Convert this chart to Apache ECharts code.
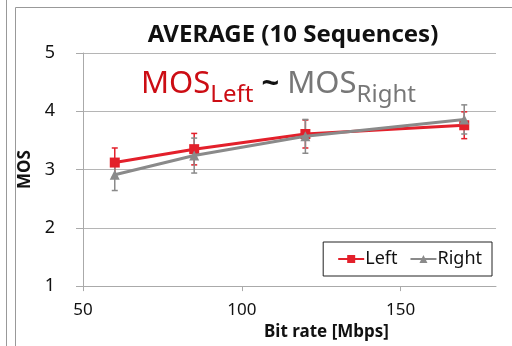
<!DOCTYPE html>
<html>
<head>
<meta charset="utf-8">
<script src="https://cdn.jsdelivr.net/npm/echarts@6/dist/echarts.min.js"></script>
<style>
  html, body { margin: 0; padding: 0; background: #fff; }
  #chart { width: 512px; height: 346px; }
</style>
</head>
<body>
<div id="chart"></div>
<script>
  // bit rates (Mbps)
  var bitRates = [60, 85, 120, 170]
  var leftMos = [3.12, 3.35, 3.61, 3.76]
  var leftErr = [0.25, 0.27, 0.24, 0.23]
  var rightMos = [2.91, 3.24, 3.57, 3.86]
  var rightErr = [0.27, 0.30, 0.29, 0.25]

  var RED = '#e3202b'
  var GRAY = '#8a8a8a'
  var FONT = 'Noto Sans'

  var chart = echarts.init(document.getElementById('chart'))

  function pairs(xs, ys) {
    var out = []
    for (var i = 0; i < xs.length; i++) out.push([xs[i], ys[i]])
    return out
  }
  function errData(xs, ys, es) {
    var out = []
    for (var i = 0; i < xs.length; i++) out.push([xs[i], ys[i] - es[i], ys[i] + es[i]])
    return out
  }
  function errorBars(color) {
    return function (params, api) {
      var lo = api.coord([api.value(0), api.value(1)])
      var hi = api.coord([api.value(0), api.value(2)])
      var w = 3
      var style = { stroke: color, lineWidth: 1.5 }
      return {
        type: 'group',
        children: [
          { type: 'line', shape: { x1: lo[0], y1: lo[1], x2: hi[0], y2: hi[1] }, style: style },
          { type: 'line', shape: { x1: lo[0] - w, y1: lo[1], x2: lo[0] + w, y2: lo[1] }, style: style },
          { type: 'line', shape: { x1: hi[0] - w, y1: hi[1], x2: hi[0] + w, y2: hi[1] }, style: style }
        ]
      }
    }
  }

  var option = {
    animation: false,
    textStyle: { fontFamily: FONT },
    title: [
      {
        text: 'AVERAGE (10 Sequences)',
        left: 288, top: 18, textAlign: 'center',
        textStyle: { fontSize: 24, fontWeight: 'bold', color: '#111', fontFamily: FONT }
      },
      {
        text: '{r|MOS}{rs|Left}{t| ~ }{g|MOS}{gs|Right}',
        left: 136, top: 64,
        textStyle: {
          fontWeight: 'normal',
          rich: {
            r: { color: '#cc0d14', fontSize: 31, fontFamily: FONT, fontWeight: 'normal', verticalAlign: 'bottom' },
            rs: { color: '#cc0d14', fontSize: 24, fontFamily: FONT, fontWeight: 'normal', verticalAlign: 'bottom', padding: [0, 0, -7, 0] },
            t: { color: '#111', fontSize: 31, fontFamily: FONT, fontWeight: 'bold', verticalAlign: 'bottom' },
            g: { color: '#777', fontSize: 31, fontFamily: FONT, fontWeight: 'normal', verticalAlign: 'bottom' },
            gs: { color: '#777', fontSize: 24, fontFamily: FONT, fontWeight: 'normal', verticalAlign: 'bottom', padding: [0, 0, -7, 0] }
          }
        }
      }
    ],
    graphic: [
      { type: 'line', shape: { x1: 6.5, y1: 0, x2: 6.5, y2: 346 }, style: { stroke: '#999', lineWidth: 1 } },
      { type: 'line', shape: { x1: 15.5, y1: 7.5, x2: 15.5, y2: 346 }, style: { stroke: '#999', lineWidth: 1 } },
      { type: 'line', shape: { x1: 15.5, y1: 7.5, x2: 512, y2: 7.5 }, style: { stroke: '#999', lineWidth: 1 } }
    ],
    legend: {
      right: 20, top: 242,
      padding: [8, 10, 8, 14],
      borderColor: '#222', borderWidth: 1,
      itemGap: 12, itemWidth: 26, itemHeight: 10,
      textStyle: { fontSize: 18, color: '#111', fontFamily: FONT, padding: [0, 0, 0, -4] },
      data: ['Left', 'Right']
    },
    grid: { left: 83, right: 16, top: 53, bottom: 57 },
    xAxis: {
      type: 'value', min: 50, max: 180, interval: 50,
      name: 'Bit rate [Mbps]', nameLocation: 'middle', nameGap: 37,
      nameTextStyle: { fontSize: 17, fontWeight: 'bold', color: '#111', fontFamily: FONT, padding: [0, 0, 0, 74] },
      axisLine: { lineStyle: { color: '#aaa' } },
      axisTick: { show: true, length: 5, lineStyle: { color: '#aaa' } },
      axisLabel: { fontSize: 17, color: '#111', margin: 16, showMaxLabel: false },
      splitLine: { show: false }
    },
    yAxis: {
      type: 'value', min: 1, max: 5, interval: 1,
      name: 'MOS', nameLocation: 'middle', nameGap: 46,
      nameTextStyle: { fontSize: 17, fontWeight: 'bold', color: '#111', fontFamily: FONT },
      axisLine: { show: true, lineStyle: { color: '#aaa' } },
      axisTick: { show: true, length: 7, lineStyle: { color: '#aaa' } },
      axisLabel: { fontSize: 18, color: '#111', margin: 28 },
      splitLine: { lineStyle: { color: '#b5b5b5' } }
    },
    series: [
      {
        type: 'custom', name: 'LeftErr', renderItem: errorBars(RED),
        data: errData(bitRates, leftMos, leftErr), z: 3,
        encode: { x: 0, y: [1, 2] }
      },
      {
        type: 'custom', name: 'RightErr', renderItem: errorBars(GRAY),
        data: errData(bitRates, rightMos, rightErr), z: 3,
        encode: { x: 0, y: [1, 2] }
      },
      {
        name: 'Left', type: 'line', data: pairs(bitRates, leftMos),
        symbol: 'rect', symbolSize: 10, color: RED,
        lineStyle: { width: 3, color: RED }, itemStyle: { color: RED }, z: 4
      },
      {
        name: 'Right', type: 'line', data: pairs(bitRates, rightMos),
        symbol: 'triangle', symbolSize: 10, color: GRAY,
        lineStyle: { width: 3, color: GRAY }, itemStyle: { color: GRAY }, z: 5
      }
    ]
  }

  chart.setOption(option)
</script>
</body>
</html>
